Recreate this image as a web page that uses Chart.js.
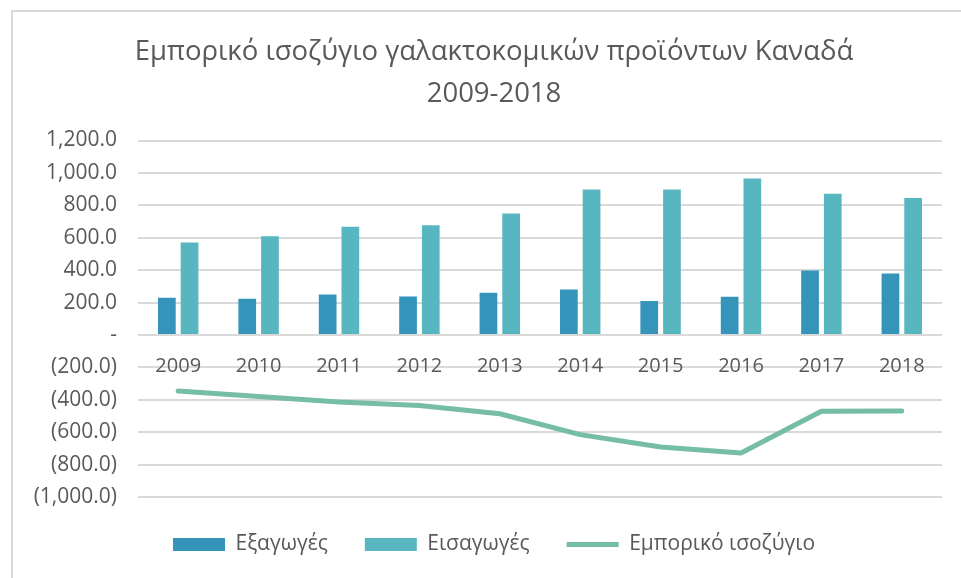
<!DOCTYPE html>
<html>
<head>
<meta charset="utf-8">
<script src="https://cdn.jsdelivr.net/npm/chart.js@4.4.1/dist/chart.umd.min.js"></script>
<style>
  html, body { margin: 0; padding: 0; background: #ffffff; overflow: hidden; }
  #frame {
    position: absolute;
    left: 11px;
    top: 10px;
    width: 1000px;
    height: 620px;
    border: 2px solid #d9d9d9;
  }
  #wrap { position: absolute; left: 0; top: 0; width: 961px; height: 578px; }
</style>
</head>
<body>
<div id="frame"></div>
<div id="wrap"><canvas id="chart"></canvas></div>
<script>
const years = ['2009', '2010', '2011', '2012', '2013', '2014', '2015', '2016', '2017', '2018'];
const exportsVals = [230, 224, 250, 238, 261, 280, 209, 236, 397, 379];
const importsVals = [571, 609, 668, 677, 749, 898, 898, 966, 871, 845];
const balanceVals = [-346, -380, -414, -436, -486, -615, -692, -729, -471, -469];

const titleLines = ['Εμπορικό ισοζύγιο γαλακτοκομικών προϊόντων Καναδά', '2009-2018'];
const seriesNames = ['Εξαγωγές', 'Εισαγωγές', 'Εμπορικό ισοζύγιο'];

const TEXT_COLOR = '#595959';
const GRID_COLOR = '#d9d9d9';
const FONT = "'Open Sans', 'Noto Sans', sans-serif";

function formatTick(value) {
  if (value === 0) return '-';
  const s = Math.abs(value).toLocaleString('en-US', { minimumFractionDigits: 1, maximumFractionDigits: 1 });
  return value < 0 ? `(${s})` : s;
}

new Chart(document.getElementById('chart'), {
  type: 'bar',
  data: {
    labels: years,
    datasets: [
      {
        label: seriesNames[0],
        data: exportsVals,
        backgroundColor: '#3494ba',
        borderWidth: 0,
        pointStyle: 'rect',
      },
      {
        label: seriesNames[1],
        data: importsVals,
        backgroundColor: '#58b6c0',
        borderWidth: 0,
        pointStyle: 'rect',
      },
      {
        type: 'line',
        label: seriesNames[2],
        data: balanceVals,
        borderColor: '#75bda7',
        backgroundColor: '#75bda7',
        borderWidth: 5,
        borderCapStyle: 'round',
        borderJoinStyle: 'round',
        tension: 0,
        pointRadius: 0,
        pointHoverRadius: 0,
        pointStyle: 'line',
      },
    ],
  },
  options: {
    responsive: true,
    maintainAspectRatio: false,
    animation: false,
    datasets: {
      bar: { categoryPercentage: 0.565, barPercentage: 0.78 },
    },
    layout: { padding: { left: 32, right: 5, top: 0, bottom: 13 } },
    plugins: {
      title: {
        display: true,
        text: titleLines,
        color: TEXT_COLOR,
        font: { family: FONT, size: 27.5, weight: 'normal', lineHeight: 1.5 },
        padding: { top: 32, bottom: 26 },
      },
      legend: {
        position: 'bottom',
        labels: {
          color: TEXT_COLOR,
          font: { family: FONT, size: 21 },
          usePointStyle: true,
          pointStyleWidth: 52,
          boxHeight: 13,
          padding: 37,
        },
      },
      tooltip: { enabled: false },
    },
    scales: {
      x: {
        position: { y: 0 },
        grid: { display: false, drawTicks: false },
        border: { display: false },
        ticks: {
          color: TEXT_COLOR,
          font: { family: FONT, size: 20 },
          padding: 19,
          maxRotation: 0,
        },
      },
      y: {
        min: -1000,
        max: 1200,
        grid: { color: GRID_COLOR, lineWidth: 2, drawTicks: false },
        border: { display: false },
        ticks: {
          stepSize: 200,
          color: TEXT_COLOR,
          font: { family: FONT, size: 21 },
          padding: 21,
          callback: (value) => formatTick(value),
        },
        afterFit(scale) {
          scale.width = 106;
        },
      },
      // empty right-hand axis, only keeps the plot clear of the right edge
      yRight: {
        position: 'right',
        grid: { display: false, drawTicks: false },
        border: { display: false },
        ticks: { display: false },
        afterFit(scale) {
          scale.width = 14;
        },
      },
    },
  },
});
</script>
</body>
</html>
